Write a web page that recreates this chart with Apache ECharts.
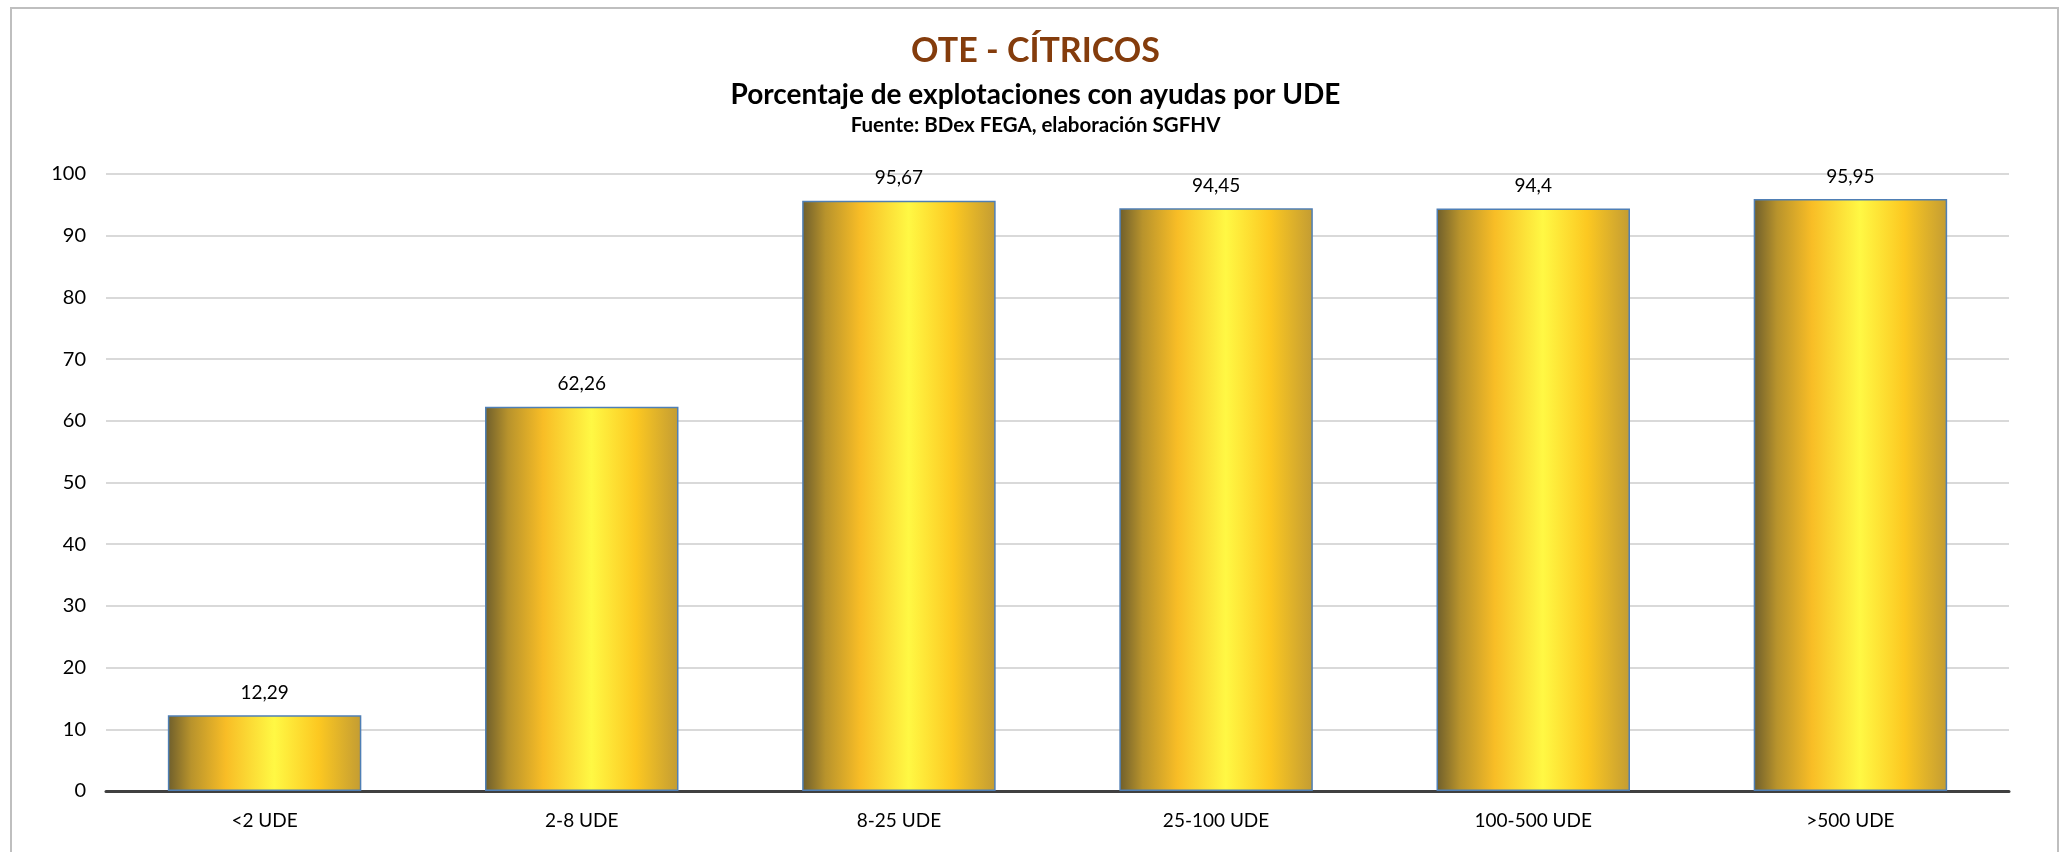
<!DOCTYPE html>
<html>
<head>
<meta charset="UTF-8">
<script type="text/javascript" src="https://cdn.jsdelivr.net/npm/echarts@6/dist/echarts.min.js"></script>
<title>OTE - CÍTRICOS</title>
<style>
	html, body { margin: 0; padding: 0; background: #fff; }
	#frame { position: absolute; left: 10px; top: 7px; width: 2049px; height: 860px; border: 2px solid #bfbfbf; border-bottom: none; box-sizing: border-box; }
	#main { position: absolute; left: 0; top: 0; width: 2071px; height: 852px; }
</style>
<script>
	var categories = ['<2 UDE', '2-8 UDE', '8-25 UDE', '25-100 UDE', '100-500 UDE', '>500 UDE'];
	var percentages = [12.29, 62.26, 95.67, 94.45, 94.4, 95.95];
	var titleText = 'OTE - CÍTRICOS';
	var subtitleText = 'Porcentaje de explotaciones con ayudas por UDE';
	var sourceText = 'Fuente: BDex FEGA, elaboración SGFHV';

	window.onload = function() {
		var myChart = echarts.init(document.getElementById('main'), null, { renderer: 'canvas' });
		var fontFam = 'Lato, "Open Sans", sans-serif';

		// cylinder-like shading of the bars
		var barFill = new echarts.graphic.LinearGradient(0, 0, 1, 0, [
			{ offset: 0, color: '#6e5e2c' },
			{ offset: 0.12, color: '#b8932c' },
			{ offset: 0.3, color: '#f8bd26' },
			{ offset: 0.55, color: '#fff844' },
			{ offset: 0.78, color: '#fcc821' },
			{ offset: 1, color: '#c39c33' }
		]);

		myChart.setOption({
			animation: false,
			title: [
				{ text: titleText, left: 'center', top: 29, textStyle: { color: '#843c0c', fontSize: 34, fontWeight: 'bold', fontFamily: fontFam } },
				{ text: subtitleText, left: 'center', top: 76, textStyle: { color: '#000', fontSize: 28, fontWeight: 'bold', fontFamily: fontFam } },
				{ text: sourceText, left: 'center', top: 110, textStyle: { color: '#000', fontSize: 20.5, fontWeight: 'bold', fontFamily: fontFam } }
			],
			grid: { left: 106, right: 62, top: 174, bottom: 61 },
			xAxis: {
				type: 'category',
				data: categories,
				axisTick: { show: false },
				axisLine: { lineStyle: { color: '#404040', width: 3 } },
				axisLabel: { color: '#000', fontSize: 19, fontFamily: fontFam, margin: 20 }
			},
			yAxis: {
				type: 'value',
				min: 0,
				max: 100,
				interval: 10,
				axisLine: { show: false },
				axisTick: { show: false },
				axisLabel: { color: '#000', fontSize: 20, fontFamily: fontFam, margin: 20 },
				splitLine: { lineStyle: { color: '#d9d9d9', width: 2 } }
			},
			series: [{
				type: 'bar',
				data: percentages,
				barCategoryGap: '39%',
				itemStyle: { color: barFill, borderColor: '#4f7fb5', borderWidth: 1.5 },
				label: {
					show: true,
					position: 'top',
					distance: 13,
					color: '#000',
					fontSize: 19,
					fontFamily: fontFam,
					formatter: function(p) { return String(p.value).replace('.', ','); }
				}
			}]
		});
	};
</script>
</head>
<body>
<div id="frame"></div>
<div id="main"></div>
</body>
</html>
